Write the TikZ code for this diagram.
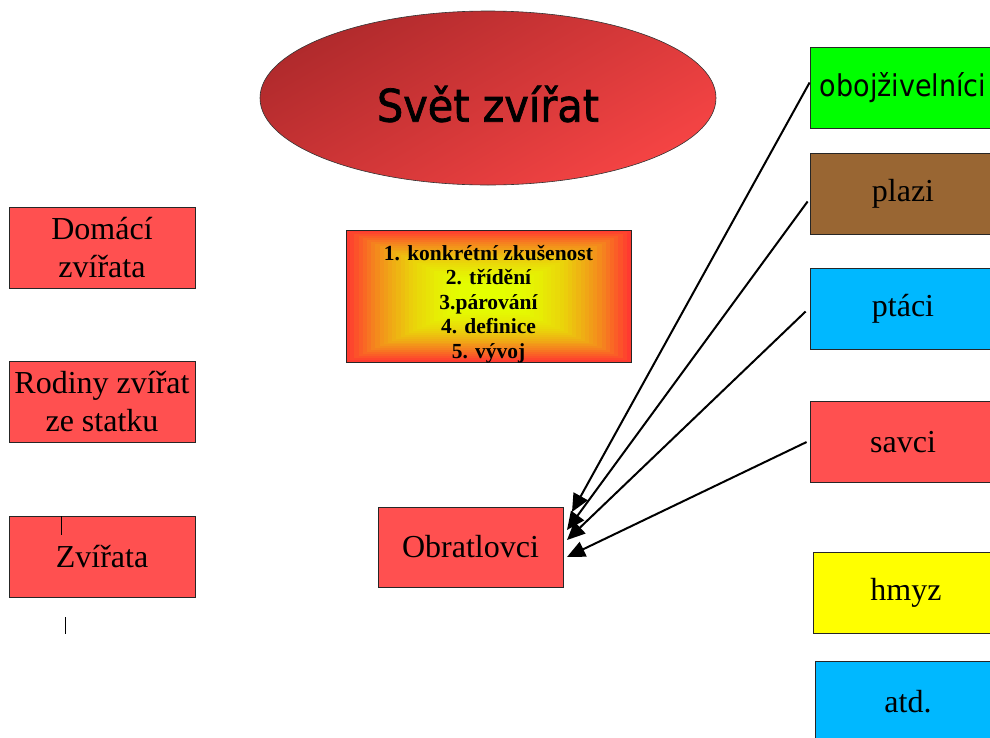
\documentclass[tikz,border=0pt]{standalone}
\usepackage{fontspec}
\setmainfont{Liberation Serif}
\newfontfamily\titlefont[FakeStretch=0.9]{DejaVu Sans}
\newfontfamily\headfont[FakeStretch=0.92,FakeBold=1.6]{DejaVu Sans}
\usepackage{xcolor}
\usepackage{tikz}
\usetikzlibrary{positioning,arrows.meta,shapes.geometric}
\definecolor{boxRed}{HTML}{FF5050}
\definecolor{ellDark}{HTML}{B02A2C}
\definecolor{ellLight}{HTML}{F54444}
\definecolor{frogGreen}{HTML}{00FF00}
\definecolor{snakeBrown}{HTML}{996633}
\definecolor{birdBlue}{HTML}{00B8FF}
\definecolor{bugYellow}{HTML}{FFFF00}
\definecolor{glowYellow}{HTML}{E4FF00}
\definecolor{glowRed}{HTML}{FF3A30}
\tikzset{
  animbox/.style={draw=black!85, line width=0.8pt, minimum width=186pt,
    minimum height=81pt, inner sep=0pt, align=center,
    font=\fontsize{32}{38}\selectfont},
  arr/.style={line width=2pt, -{Triangle[length=18pt,width=16pt]}}
}

\begin{document}
\begin{tikzpicture}[x=1pt,y=-1pt]
  \useasboundingbox (0,0) rectangle (990,737);
  \clip (0,0) rectangle (990,737);
  % title
  \node[ellipse, draw=black!80, line width=0.6pt, minimum width=456pt, minimum height=174pt,
    inner sep=0pt, top color=ellDark, bottom color=ellLight, shading angle=30,
    label={[font=\headfont\fontsize{45}{50}\selectfont, yshift=-6pt]center:Svět zvířat}]
    (svet) at (488,98) {};
  % left column
  \node[animbox, fill=boxRed] (domaci) at (102,247.5) {Domácí\\zvířata};
  \node[animbox, fill=boxRed] (rodiny) at (102,401.5) {Rodiny zvířat\\ze statku};
  \node[animbox, fill=boxRed] (zvirata) at (102,557) {Zvířata};
  \draw[line width=0.8pt] (61,516) -- (61,535);
  \draw[line width=0.8pt] (65,617) -- (65,634);
  % steps, rectangular glow
  \foreach \i in {0,...,30}{
    \pgfmathtruncatemacro{\mixp}{100*(1-(1-\i/30)^2)}
    \fill[glowYellow!\mixp!glowRed] (346+\i*4.2,230+\i*1.95) rectangle (631-\i*4.2,362-\i*1.95);
  }
  \node[draw=black!85, line width=0.8pt, minimum width=285pt, minimum height=132pt,
    inner sep=0pt,
    label={[align=center, yshift=-8pt, font=\bfseries\fontsize{21.5}{24.6}\selectfont]center:%
      1. konkrétní zkušenost\\2. třídění\\3.párování\\4. definice\\5. vývoj}]
    (kroky) at (488.5,296) {};
  \node[animbox, fill=boxRed, minimum width=185pt, minimum height=80pt] (obratlovci) at (470.5,547) {Obratlovci};
  % right column
  \node[animbox, fill=frogGreen, font=\titlefont\fontsize{30}{36}\selectfont] (oboj) at (903,87.5) {obojživelníci};
  \node[animbox, fill=snakeBrown] (plazi) at (903,193.5) {plazi};
  \node[animbox, fill=birdBlue] (ptaci) at (903,308.5) {ptáci};
  \node[animbox, fill=boxRed] (savci) at (903,442) {savci};
  \node[animbox, fill=bugYellow] (hmyz) at (906,592.5) {hmyz};
  \node[animbox, fill=birdBlue] (atd) at (908,701.5) {atd.};
  % arrows
  \coordinate (in1) at (572,512);
  \coordinate (in2) at (567,530);
  \coordinate (in3) at (567,540);
  \coordinate (in4) at (567,557);
  \draw[arr] ([yshift=5pt]oboj.west) -- (in1);
  \draw[arr] ([xshift=-2pt,yshift=-8pt]plazi.west) -- (in2);
  \draw[arr] ([xshift=-4pt,yshift=-3pt]ptaci.west) -- (in3);
  \draw[arr] ([xshift=-3pt]savci.west) -- (in4);
\end{tikzpicture}
\end{document}
